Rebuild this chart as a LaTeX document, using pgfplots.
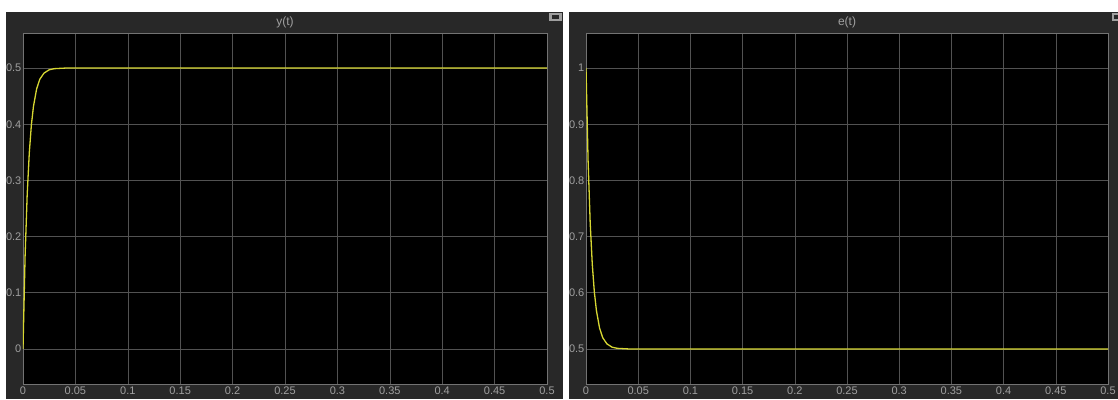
\documentclass[border=0pt]{standalone}
\usepackage{pgfplots}
\pgfplotsset{compat=1.18}
\usepackage{fontspec}
\setmainfont{Liberation Sans}
\definecolor{panel}{RGB}{40,40,40}
\definecolor{gridc}{RGB}{82,82,82}
\definecolor{boxc}{RGB}{115,115,115}
\definecolor{txt}{RGB}{160,160,160}
\definecolor{sig}{RGB}{215,215,50}
\pgfplotsset{
  scopestyle/.style={
    anchor=south west, scale only axis, height=351pt,
    axis background/.style={fill=black},
    axis line style={boxc, line width=0.8pt},
    grid=major, major grid style={gridc, line width=0.6pt},
    major tick length=0pt,
    tick label style={font=\fontsize{11}{13}\selectfont, text=txt},
    /pgf/number format/assume math mode=true,
    xmin=0, xmax=0.5,
    xtick={0,0.05,0.1,0.15,0.2,0.25,0.3,0.35,0.4,0.45,0.5},
    xticklabels={0,0.05,0.1,0.15,0.2,0.25,0.3,0.35,0.4,0.45,0.5},
    xticklabel style={anchor=north, inner sep=0pt, yshift=-3pt},
    yticklabel style={anchor=east, inner sep=0pt, xshift=-1.5pt},
  }
}
\begin{document}
\begin{tikzpicture}[x=1pt,y=1pt]
\useasboundingbox (0,0) rectangle (1118,399);
\fill[white] (0,0) rectangle (1118,399);
\fill[panel] (6,0) rectangle (563,387);
\fill[panel] (569,0) rectangle (1118,387);
% icons
\fill[gray!75] (549,378) rectangle (562,386);
\fill[panel] (552,380) rectangle (559,384);
\fill[gray!75] (1112,378) rectangle (1118,386);
\fill[panel] (1114,380) rectangle (1118,384);
\node[text=txt, font=\fontsize{12}{14}\selectfont] at (285,377) {y(t)};
\node[text=txt, font=\fontsize{12}{14}\selectfont] at (847,377) {e(t)};
\begin{axis}[scopestyle, at={(23pt,15pt)}, width=524pt,
  ymin=-0.0625, ymax=0.5625,
  ytick={0,0.1,0.2,0.3,0.4,0.5},
  yticklabels={0,0.1,0.2,0.3,0.4,0.5}]
\addplot[sig, line width=1.3pt] coordinates {
(0,0) (0.002,0.165) (0.004,0.275) (0.006,0.349) (0.008,0.399) (0.01,0.432)
(0.013,0.463) (0.016,0.480) (0.02,0.491) (0.025,0.497) (0.03,0.499) (0.04,0.5) (0.5,0.5)};
\end{axis}
\begin{axis}[scopestyle, at={(586pt,15pt)}, width=522pt,
  ymin=0.4375, ymax=1.0625,
  ytick={0.5,0.6,0.7,0.8,0.9,1},
  yticklabels={0.5,0.6,0.7,0.8,0.9,1}]
\addplot[sig, line width=1.3pt] coordinates {
(0,1) (0.002,0.835) (0.004,0.725) (0.006,0.651) (0.008,0.601) (0.01,0.568)
(0.013,0.537) (0.016,0.520) (0.02,0.509) (0.025,0.503) (0.03,0.501) (0.04,0.5) (0.5,0.5)};
\end{axis}
\end{tikzpicture}
\end{document}
